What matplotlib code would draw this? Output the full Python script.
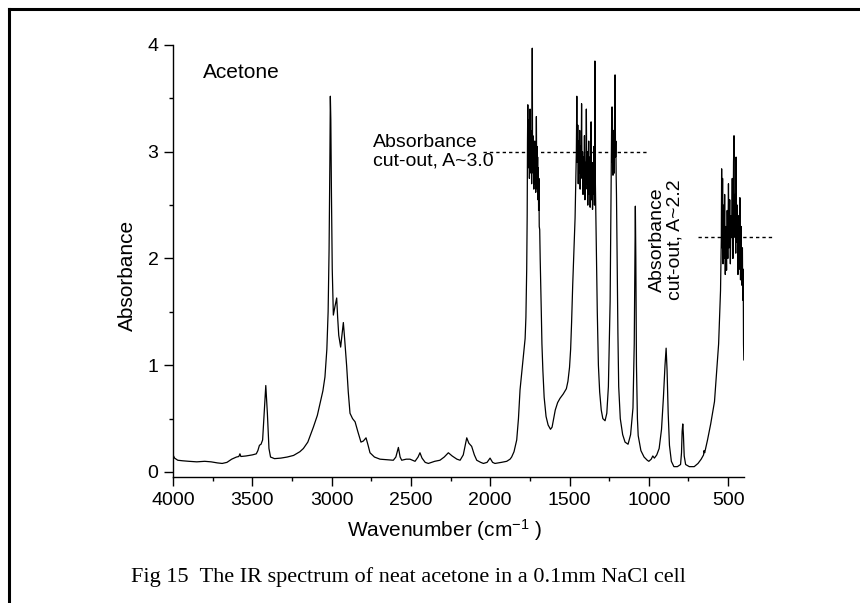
import matplotlib
matplotlib.use('Agg')
import matplotlib.pyplot as plt
from matplotlib.lines import Line2D
from matplotlib.ticker import MultipleLocator

# spectrum: wavenumber (cm-1), absorbance
WAVENUMBER = [
    4000, 3990, 3970, 3940, 3900, 3850, 3800, 3760, 3720, 3690, 3660, 3630,
    3600, 3585, 3578, 3572, 3540, 3500, 3475, 3465, 3455, 3445, 3435, 3425,
    3415, 3405, 3395, 3385, 3360, 3320, 3280, 3240, 3200, 3178, 3150, 3115,
    3090, 3073, 3055, 3042, 3030, 3022, 3016, 3011, 3008, 3005, 3001, 2996,
    2989, 2979, 2968, 2962, 2955, 2943, 2935, 2926, 2918, 2905, 2895, 2884,
    2868, 2852, 2835, 2815, 2800, 2783, 2770, 2758, 2730, 2695, 2650, 2611,
    2595, 2579, 2568, 2558, 2530, 2506, 2474, 2455, 2443, 2430, 2410, 2390,
    2350, 2317, 2290, 2264, 2240, 2210, 2190, 2170, 2148, 2135, 2117, 2100,
    2085, 2060, 2043, 2020, 2001, 1985, 1970, 1930, 1896, 1875, 1865, 1850,
    1833, 1822, 1812, 1800, 1791, 1780, 1775, 1770,
    # C=O band, saturated
    1767, 1765, 1763, 1761, 1759, 1757, 1755, 1753, 1751, 1749, 1747, 1745,
    1743, 1741, 1739, 1737, 1735, 1733, 1731, 1729, 1727, 1725, 1723, 1721,
    1719, 1717, 1715, 1713, 1711, 1709, 1707, 1705, 1703, 1701, 1699, 1697,
    1695, 1693, 1691, 1688, 1685, 1682,
    1678, 1674, 1668, 1660, 1648, 1635, 1620, 1610, 1600, 1590, 1575, 1560,
    1540, 1520, 1510, 1500, 1493, 1487, 1480, 1472, 1465,
    # CH3 deformation band, saturated
    1461, 1457, 1454, 1451, 1448, 1445, 1442, 1439, 1436, 1433, 1430, 1427,
    1424, 1421, 1418, 1415, 1412, 1409, 1406, 1403, 1400, 1397, 1394, 1391,
    1388, 1385, 1382, 1379, 1376, 1373, 1370, 1367, 1364, 1361, 1358, 1355,
    1352, 1349, 1346, 1343, 1340, 1337, 1334,
    1330, 1325, 1318, 1310, 1300, 1290, 1276, 1265, 1255, 1248, 1244, 1240,
    # C-C-C band, saturated
    1236, 1234, 1232, 1230, 1228, 1226, 1224, 1222, 1220, 1218, 1216, 1213,
    1210, 1208, 1206, 1204,
    1200, 1195, 1190, 1180, 1165, 1150, 1131, 1115, 1100, 1092, 1088, 1085,
    1082, 1078, 1072, 1067, 1050, 1030, 1010, 1000, 985, 975, 965, 950,
    935, 920, 908, 898, 891, 885, 878, 870, 858, 842, 820, 800,
    794, 790, 786, 782, 777, 768, 745, 714, 690, 670, 655, 652,
    648, 630, 610, 586, 560, 548,
    # low wavenumber band, saturated
    543, 541, 538, 535, 532, 529, 526, 522, 518, 514, 510, 506,
    502, 498, 494, 490, 486, 482, 478, 474, 470, 466, 463, 460,
    456, 452, 450, 446, 442, 438, 434, 430, 426, 422, 418, 414,
    410, 408, 405, 403, 401,
]

ABSORBANCE = [
    0.16, 0.13, 0.11, 0.105, 0.10, 0.095, 0.10, 0.095, 0.085, 0.08, 0.09, 0.12,
    0.14, 0.145, 0.17, 0.145, 0.15, 0.16, 0.17, 0.20, 0.25, 0.26, 0.30, 0.55,
    0.81, 0.55, 0.22, 0.14, 0.125, 0.13, 0.14, 0.155, 0.19, 0.22, 0.28, 0.42,
    0.53, 0.64, 0.76, 0.89, 1.15, 1.50, 2.08, 2.90, 3.52, 3.30, 2.60, 1.90,
    1.47, 1.55, 1.63, 1.45, 1.28, 1.17, 1.28, 1.40, 1.25, 0.99, 0.75, 0.55,
    0.50, 0.47, 0.38, 0.28, 0.29, 0.32, 0.25, 0.18, 0.14, 0.12, 0.115, 0.11,
    0.14, 0.23, 0.14, 0.11, 0.12, 0.12, 0.10, 0.14, 0.18, 0.13, 0.09, 0.08,
    0.10, 0.11, 0.14, 0.18, 0.15, 0.12, 0.11, 0.16, 0.32, 0.27, 0.24, 0.16,
    0.11, 0.09, 0.08, 0.09, 0.13, 0.09, 0.08, 0.09, 0.10, 0.12, 0.14, 0.19,
    0.30, 0.50, 0.77, 0.95, 1.08, 1.25, 1.45, 1.90,
    2.40, 3.10, 3.44, 2.95, 3.30, 2.85, 3.15, 2.75, 3.05, 3.40, 2.90, 3.20,
    2.80, 3.10, 2.70, 3.00, 3.97, 2.95, 3.15, 2.80, 3.05, 2.65, 3.00, 2.75,
    3.10, 2.70, 2.95, 2.62, 2.90, 3.33, 2.80, 3.05, 2.65, 2.95, 2.55, 2.85,
    2.45, 2.75, 2.30, 2.27, 2.00, 1.80,
    1.50, 1.20, 0.95, 0.70, 0.52, 0.44, 0.40, 0.42, 0.50, 0.58, 0.65, 0.69,
    0.73, 0.78, 0.85, 0.98, 1.15, 1.40, 1.75, 2.10, 2.38,
    2.70, 3.00, 3.52, 2.90, 3.25, 2.70, 3.10, 2.80, 3.20, 2.65, 3.05, 2.85,
    3.45, 2.75, 3.00, 2.60, 2.95, 2.70, 3.15, 2.55, 2.90, 2.65, 3.40, 2.70,
    3.00, 2.50, 2.85, 3.10, 2.60, 2.95, 2.48, 2.80, 3.28, 2.55, 2.90, 2.46,
    2.75, 2.60, 3.05, 2.50, 3.85, 2.70, 2.40,
    2.00, 1.50, 1.00, 0.75, 0.58, 0.50, 0.48, 0.55, 0.80, 1.30, 1.60, 2.30,
    2.88, 3.35, 3.42, 2.90, 3.10, 2.78, 3.20, 2.85, 3.05, 2.80, 3.30, 3.72,
    2.95, 3.10, 2.78, 2.60,
    2.00, 1.30, 0.80, 0.50, 0.35, 0.28, 0.26, 0.35, 0.60, 1.20, 2.00, 2.49,
    2.00, 1.00, 0.50, 0.34, 0.20, 0.14, 0.11, 0.10, 0.12, 0.15, 0.13, 0.16,
    0.22, 0.40, 0.70, 1.00, 1.16, 0.95, 0.55, 0.25, 0.10, 0.05, 0.05, 0.07,
    0.18, 0.38, 0.45, 0.35, 0.15, 0.07, 0.05, 0.05, 0.08, 0.12, 0.16, 0.20,
    0.18, 0.30, 0.45, 0.66, 1.20, 1.70,
    2.20, 2.84, 2.10, 2.75, 1.95, 2.50, 2.00, 2.60, 1.85, 2.30, 1.89, 2.45,
    2.00, 2.70, 2.10, 2.55, 1.95, 2.40, 2.20, 2.75, 2.00, 2.90, 3.15, 2.20,
    2.60, 2.05, 2.95, 2.15, 2.50, 1.85, 2.40, 1.90, 2.57, 1.80, 2.30, 1.75,
    2.10, 1.61, 1.90, 1.20, 1.05,
]

# absorbance cut-out markers: level, wavenumber from, wavenumber to
CUTOFF_HIGH = (3.0, 2045, 1011)
CUTOFF_LOW = (2.2, 690, 217)

W, H = 860, 603

plt.rcParams['font.family'] = ['Liberation Sans', 'DejaVu Sans']
plt.rcParams['mathtext.fontset'] = 'custom'
plt.rcParams['mathtext.rm'] = 'Liberation Sans'
plt.rcParams['mathtext.it'] = 'Liberation Sans:italic'

fig = plt.figure(figsize=(W / 100, H / 100), dpi=100)
ax = fig.add_axes([173 / W, 1 - 477 / H, (744 - 173) / W, (477 - 45) / H])

ax.plot(WAVENUMBER, ABSORBANCE, color='black', lw=0.9)

for level, x0, x1 in (CUTOFF_HIGH, CUTOFF_LOW):
    ax.plot([x0, x1], [level, level], color='black', lw=1.0,
            ls=(0, (2.4, 2.2)), clip_on=False)

ax.set_xlim(4000, 400)
ax.set_ylim(-0.047, 4)
ax.xaxis.set_major_locator(MultipleLocator(500))
ax.xaxis.set_minor_locator(MultipleLocator(250))
ax.yaxis.set_major_locator(MultipleLocator(1))
ax.yaxis.set_minor_locator(MultipleLocator(0.5))
ax.tick_params(which='major', direction='out', length=6.5, width=1.0,
               labelsize=14, pad=4)
ax.tick_params(which='minor', direction='out', length=3, width=1.0)
ax.spines['right'].set_visible(False)
ax.spines['top'].set_visible(False)
for s in ('left', 'bottom'):
    ax.spines[s].set_linewidth(1.0)

ax.text(3811, 3.74, 'Acetone', fontsize=15, va='center', ha='left')
ax.text(2739, 3.0, 'Absorbance\ncut-out, A~3.0', fontsize=14,
        va='center', ha='left', linespacing=1.05)
ax.text(893, 2.18, 'Absorbance\ncut-out, A~2.2', fontsize=14, rotation=90,
        va='center', ha='center', multialignment='center', linespacing=1.05)

fig.text(445 / W, 1 - 530 / H, 'Wavenumber (cm$^{-1}$ )', fontsize=15,
         ha='center', va='center')
fig.text(127 / W, 1 - 275 / H, 'Absorbance', fontsize=15, rotation=90,
         ha='center', va='center')
fig.text(408 / W, 1 - 577 / H,
         'Fig 15  The IR spectrum of neat acetone in a 0.1mm NaCl cell',
         family='Liberation Serif', fontsize=16, ha='center', va='center')

# page frame (only top and left edges are inside the crop)
fig.add_artist(Line2D([9 / W, 1], [1 - 9 / H, 1 - 9 / H], lw=2.2, color='black'))
fig.add_artist(Line2D([9 / W, 9 / W], [0, 1 - 9 / H], lw=2.2, color='black'))

fig.savefig('out.png', dpi=100)
